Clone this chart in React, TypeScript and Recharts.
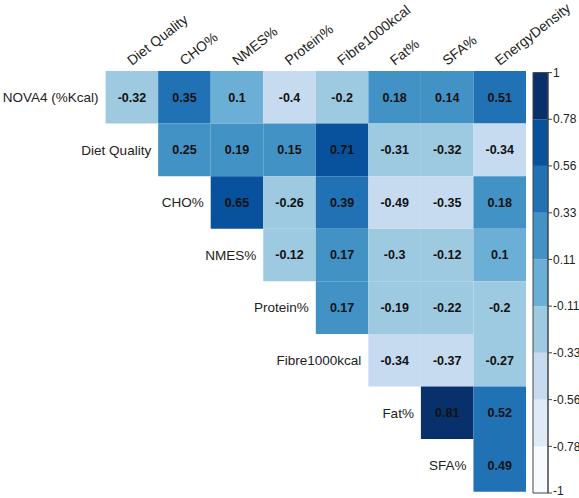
import { ScatterChart, Scatter, XAxis, YAxis, ReferenceArea } from "recharts";

const rowNames = ["NOVA4 (%Kcal)", "Diet Quality", "CHO%", "NMES%", "Protein%", "Fibre1000kcal", "Fat%", "SFA%"];
const colNames = ["Diet Quality", "CHO%", "NMES%", "Protein%", "Fibre1000kcal", "Fat%", "SFA%", "EnergyDensity"];

// upper triangle, row i starts at column i
const corrRows = [
  [-0.32, 0.35, 0.1, -0.4, -0.2, 0.18, 0.14, 0.51],
  [0.25, 0.19, 0.15, 0.71, -0.31, -0.32, -0.34],
  [0.65, -0.26, 0.39, -0.49, -0.35, 0.18],
  [-0.12, 0.17, -0.3, -0.12, 0.1],
  [0.17, -0.19, -0.22, -0.2],
  [-0.34, -0.37, -0.27],
  [0.81, 0.52],
  [0.49],
];

const breaks = [-1, -0.778, -0.556, -0.333, -0.111, 0.111, 0.333, 0.556, 0.778, 1];
const breakLabels = ["-1", "-0.78", "-0.56", "-0.33", "-0.11", "0.11", "0.33", "0.56", "0.78", "1"];
const blues = ["#F7FBFF", "#DEEBF7", "#C6DBEF", "#9ECAE1", "#6BAED6", "#4292C6", "#2171B5", "#08519C", "#08306B"];

const FONT = '"Liberation Sans", Arial, sans-serif';
const W = 579;
const H = 498;

function colorFor(v: number) {
  for (let i = 0; i < blues.length; i++) {
    if (v <= breaks[i + 1]) return blues[i];
  }
  return blues[blues.length - 1];
}

const cells = corrRows.flatMap((vals, r) =>
  vals.map((v, k) => ({ r, c: r + k, x: r + k + 0.5, y: r + 0.5, v }))
);
const rowLabelPts = rowNames.map((name, r) => ({ x: r, y: r + 0.5, name }));
const colTicks = colNames.map((_, i) => i + 0.5);
const binMids = blues.map((_, i) => ({ x: 0.5, y: (breaks[i] + breaks[i + 1]) / 2 }));

const ColTick = (props: any) => {
  const { x, y, payload } = props;
  const name = colNames[Math.round(payload.value - 0.5)];
  return (
    <g transform={`translate(${x},${y}) rotate(-38)`}>
      <text x={0} y={0} textAnchor="start" fontSize={14} fontFamily={FONT} fill="#222">
        {name}
      </text>
    </g>
  );
};

const BarTick = (props: any) => {
  const { x, y, payload } = props;
  const label = breakLabels[breaks.indexOf(payload.value)];
  // keep the bottom label inside the picture
  const yy = payload.value === -1 ? y - 2 : y;
  return (
    <text x={x} y={yy} dy="0.35em" textAnchor="start" fontSize={12} fontFamily={FONT} fill="#222">
      {label}
    </text>
  );
};

const ValueShape = (props: any) => {
  const { cx, cy, payload } = props;
  return (
    <text x={cx} y={cy} dy="0.35em" textAnchor="middle" fontSize={12.5} fontWeight="bold" fontFamily={FONT} fill="#111">
      {payload.v}
    </text>
  );
};

const RowLabelShape = (props: any) => {
  const { cx, cy, payload } = props;
  return (
    <text x={cx - 7} y={cy} dy="0.35em" textAnchor="end" fontSize={13.5} fontFamily={FONT} fill="#222">
      {payload.name}
    </text>
  );
};

export default function App() {
  return (
    <div style={{ position: "absolute", left: 0, top: 0, width: W, height: H, background: "#fff" }}>
      <div style={{ position: "absolute", left: 0, top: 0 }}>
        <ScatterChart width={W} height={H} margin={{ top: 0, left: 105.6, right: 53, bottom: 6.3 }}>
          <XAxis
            xAxisId="x"
            type="number"
            orientation="top"
            domain={[0, 8]}
            ticks={colTicks}
            height={71}
            axisLine={false}
            tickLine={false}
            tickSize={0}
            tickMargin={5}
            tick={<ColTick />}
            interval={0}
            dataKey="x"
          />
          <YAxis yAxisId="y" type="number" domain={[0, 8]} reversed hide width={0} dataKey="y" />
          {cells.map((d) => (
            <ReferenceArea
              key={`${d.r}-${d.c}`}
              xAxisId="x"
              yAxisId="y"
              x1={d.c}
              x2={d.c + 1}
              y1={d.r}
              y2={d.r + 1}
              fill={colorFor(d.v)}
              fillOpacity={1}
              stroke="none"
            />
          ))}
          <Scatter xAxisId="x" yAxisId="y" data={cells} shape={<ValueShape />} isAnimationActive={false} />
          <Scatter xAxisId="x" yAxisId="y" data={rowLabelPts} shape={<RowLabelShape />} isAnimationActive={false} />
        </ScatterChart>
      </div>
      <div style={{ position: "absolute", left: 0, top: 0 }}>
        <ScatterChart width={W} height={H} margin={{ top: 72.6, left: 533, right: 0, bottom: 5 }}>
          <XAxis xAxisId="b" type="number" domain={[0, 1]} hide height={0} dataKey="x" />
          <YAxis
            yAxisId="b"
            type="number"
            orientation="right"
            domain={[-1, 1]}
            ticks={breaks}
            width={31}
            tickSize={4}
            tickMargin={1}
            axisLine={{ stroke: "#444" }}
            tickLine={{ stroke: "#444" }}
            tick={<BarTick />}
            interval={0}
            dataKey="y"
          />
          {blues.map((col, i) => (
            <ReferenceArea
              key={col}
              xAxisId="b"
              yAxisId="b"
              x1={0}
              x2={1}
              y1={breaks[i]}
              y2={breaks[i + 1]}
              fill={col}
              fillOpacity={1}
              stroke="none"
            />
          ))}
          <ReferenceArea xAxisId="b" yAxisId="b" x1={0} x2={1} y1={-1} y2={1} fill="none" stroke="#444" strokeWidth={1} />
          <Scatter xAxisId="b" yAxisId="b" data={binMids} shape={() => <g />} isAnimationActive={false} />
        </ScatterChart>
      </div>
    </div>
  );
}
